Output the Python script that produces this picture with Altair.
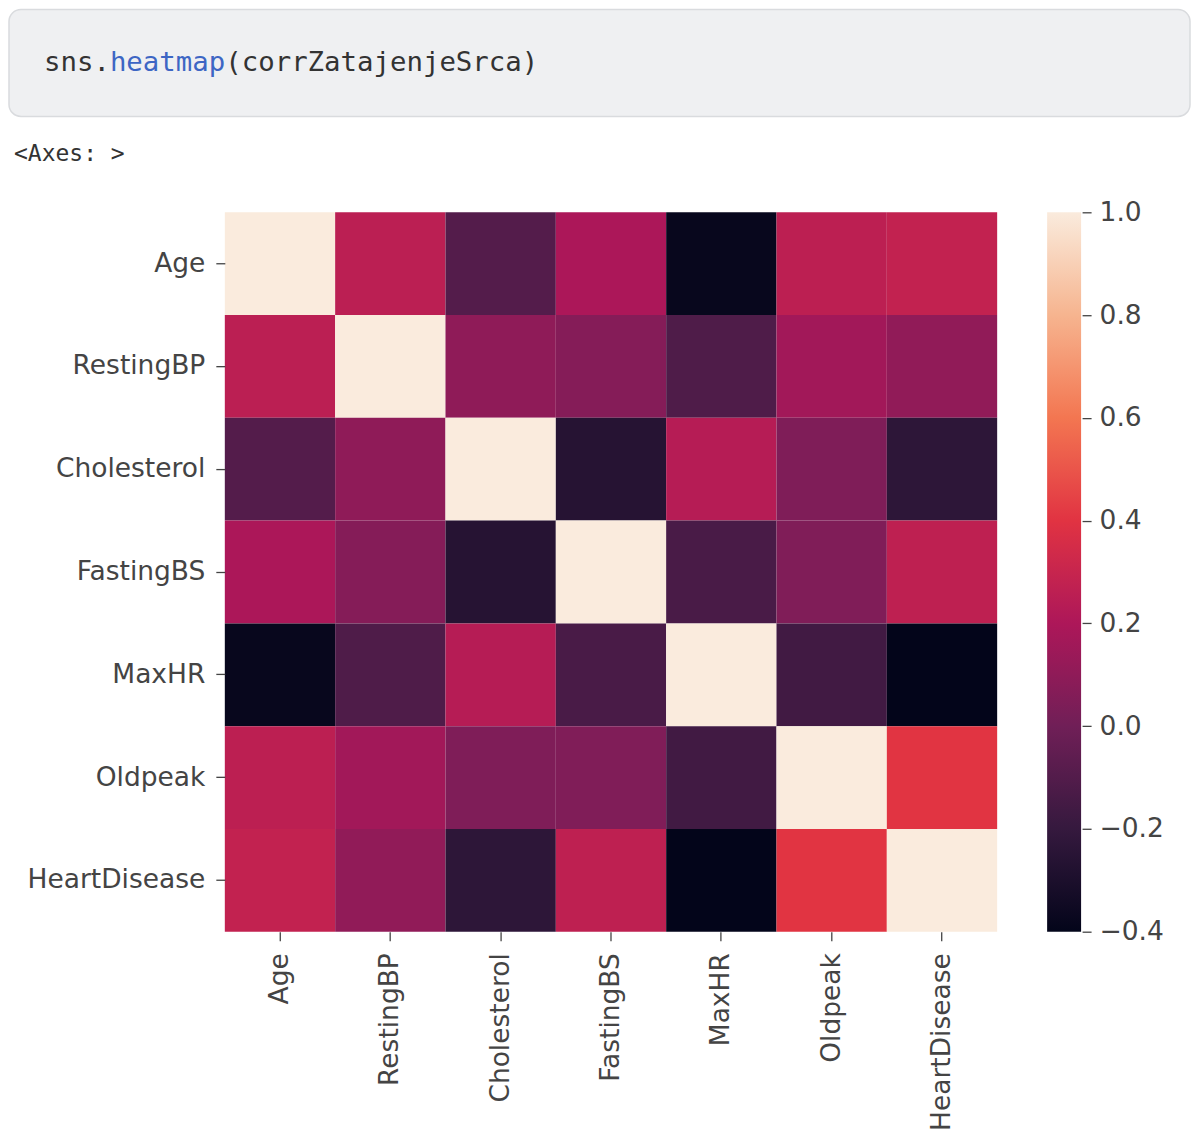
import altair as alt
import pandas as pd

# ---- data -------------------------------------------------------------
features = ["Age", "RestingBP", "Cholesterol", "FastingBS", "MaxHR", "Oldpeak", "HeartDisease"]

corr_age          = [1.000, 0.254, -0.095, 0.198, -0.382, 0.259, 0.282]
corr_restingbp    = [0.254, 1.000, 0.101, 0.070, -0.112, 0.165, 0.108]
corr_cholesterol  = [-0.095, 0.101, 1.000, -0.261, 0.236, 0.050, -0.233]
corr_fastingbs    = [0.198, 0.070, -0.261, 1.000, -0.131, 0.053, 0.267]
corr_maxhr        = [-0.382, -0.112, 0.236, -0.131, 1.000, -0.161, -0.400]
corr_oldpeak      = [0.259, 0.165, 0.050, 0.053, -0.161, 1.000, 0.404]
corr_heartdisease = [0.282, 0.108, -0.233, 0.267, -0.400, 0.404, 1.000]

colorbar_ticks = [-0.4, -0.2, 0.0, 0.2, 0.4, 0.6, 0.8, 1.0]

code_prefix = "sns."
code_func = "heatmap"
code_args = "(corrZatajenjeSrca)"
output_text = "<Axes: >"

# rocket colormap stops (seaborn)
rocket_stops = ["#03051a", "#35193e", "#701f57", "#ad1759",
                "#e13342", "#f37651", "#f6b48f", "#faebdd"]

rows_values = [corr_age, corr_restingbp, corr_cholesterol, corr_fastingbs,
               corr_maxhr, corr_oldpeak, corr_heartdisease]
records = []
for r, vals in zip(features, rows_values):
    for c, v in zip(features, vals):
        records.append({"row": r, "col": c, "value": v})
df = pd.DataFrame(records)

W, H = 773, 720
LABEL_FONT = "DejaVu Sans"
LABEL_COLOR = "#444444"
LABEL_SIZE = 26.5

color_scale = alt.Scale(domain=colorbar_ticks, range=rocket_stops, interpolate="rgb")

heat = alt.Chart(df).mark_rect().encode(
    x=alt.X("col:N", sort=features, title=None,
            scale=alt.Scale(paddingInner=0, paddingOuter=0),
            axis=alt.Axis(labelAngle=-90, labelFont=LABEL_FONT, labelFontSize=LABEL_SIZE,
                          labelColor=LABEL_COLOR, tickColor=LABEL_COLOR, tickSize=9,
                          tickWidth=1.3, domain=False, labelPadding=12)),
    y=alt.Y("row:N", sort=features, title=None,
            scale=alt.Scale(paddingInner=0, paddingOuter=0),
            axis=alt.Axis(labelFont=LABEL_FONT, labelFontSize=LABEL_SIZE,
                          labelColor=LABEL_COLOR, tickColor=LABEL_COLOR, tickSize=9,
                          tickWidth=1.3, domain=False, labelPadding=11)),
    color=alt.Color("value:Q", scale=color_scale,
                    legend=alt.Legend(orient="none", legendX=W + 50, legendY=0,
                                      direction="vertical", title=None,
                                      gradientLength=H, gradientThickness=34,
                                      gradientStrokeWidth=0, labelExpr="''",
                                      labelFontSize=1, values=colorbar_ticks)),
)

# colorbar tick axis
cbar_axis = alt.Chart(pd.DataFrame({"v": colorbar_ticks})).mark_point(opacity=0).encode(
    y=alt.Y("v:Q", title=None,
            scale=alt.Scale(domain=[-0.4, 1.0], nice=False, zero=False),
            axis=alt.Axis(orient="right", offset=85, values=colorbar_ticks, format=".1f",
                          labelFont=LABEL_FONT, labelFontSize=LABEL_SIZE, labelColor=LABEL_COLOR,
                          tickColor=LABEL_COLOR, tickSize=9, tickWidth=1.3,
                          domain=False, grid=False, labelPadding=8)),
    x=alt.value(W + 70),
)

one = pd.DataFrame({"k": [0]})
# notebook code cell decoration
code_box = alt.Chart(one).mark_rect(
    fill="#eff0f2", stroke="#d9dbde", strokeWidth=1.5, cornerRadius=12
).encode(x=alt.value(-216), x2=alt.value(966), y=alt.value(-203), y2=alt.value(-96))

CODE_SIZE = 27.4
CHAR = 0.602 * CODE_SIZE
code_x0 = -181
code_y = -141
code_kw = dict(font="DejaVu Sans Mono", fontSize=CODE_SIZE, align="left", baseline="alphabetic")
t1 = alt.Chart(one).mark_text(text=code_prefix, color="#333333", **code_kw).encode(
    x=alt.value(code_x0), y=alt.value(code_y))
t2 = alt.Chart(one).mark_text(text=code_func, color="#3d66c4", **code_kw).encode(
    x=alt.value(code_x0 + CHAR * len(code_prefix)), y=alt.value(code_y))
t3 = alt.Chart(one).mark_text(text=code_args, color="#333333", **code_kw).encode(
    x=alt.value(code_x0 + CHAR * (len(code_prefix) + len(code_func))), y=alt.value(code_y))
out_t = alt.Chart(one).mark_text(text=output_text, color="#333333", font="DejaVu Sans Mono",
                                 fontSize=23, align="left", baseline="alphabetic").encode(
    x=alt.value(-211), y=alt.value(-51))

chart = alt.layer(code_box, t1, t2, t3, out_t, heat, cbar_axis).resolve_scale(
    y="independent"
).properties(
    width=W, height=H, padding=0, background="white"
).configure_view(stroke=None)

chart.save("out.html", embed_options={"renderer": "svg", "actions": False})
